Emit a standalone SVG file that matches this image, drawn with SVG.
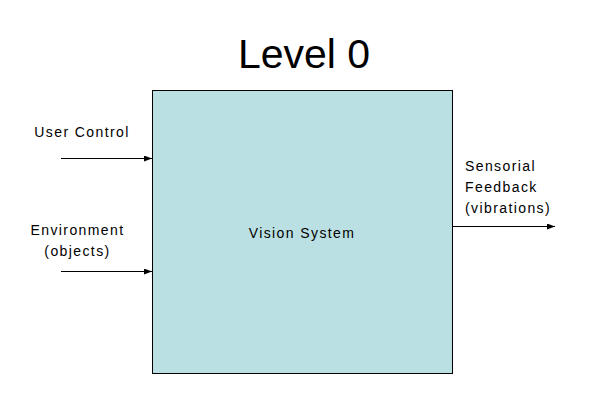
<svg xmlns="http://www.w3.org/2000/svg" width="598" height="416" viewBox="0 0 598 416">
<style>
text{font-family:"Liberation Sans",Arial,sans-serif;fill:#000}
.t{font-size:14px;letter-spacing:1.4px}
.c{stroke:#000;stroke-width:1;fill:none}
</style>
<defs>
<marker id="ah" markerWidth="8" markerHeight="6" refX="8" refY="3" orient="auto" markerUnits="userSpaceOnUse">
<path d="M0,0 L8,3 L0,6 z" fill="#000"/>
</marker>
</defs>
<rect width="598" height="416" fill="#fff"/>
<text x="304" y="68" font-size="41" text-anchor="middle">Level 0</text>
<g id="vision-system">
<rect x="152.5" y="90.5" width="300" height="283" fill="#BBE0E3" stroke="#000" stroke-width="1"/>
<text class="t" x="302" y="238" text-anchor="middle">Vision System</text>
</g>
<g id="user-control">
<text class="t" x="82" y="137" text-anchor="middle">User Control</text>
</g>
<g id="environment">
<text class="t" x="77.5" y="235" text-anchor="middle">Environment</text>
<text class="t" x="77.5" y="256" text-anchor="middle">(objects)</text>
</g>
<g id="feedback">
<text class="t" x="465" y="171">Sensorial</text>
<text class="t" x="465" y="192">Feedback</text>
<text class="t" x="465" y="213">(vibrations)</text>
</g>
<g id="connectors">
<line class="c" x1="61" y1="158.5" x2="152" y2="158.5" marker-end="url(#ah)"/>
<line class="c" x1="61" y1="271.5" x2="152" y2="271.5" marker-end="url(#ah)"/>
<line class="c" x1="453" y1="226.5" x2="555" y2="226.5" marker-end="url(#ah)"/>
</g>
</svg>
